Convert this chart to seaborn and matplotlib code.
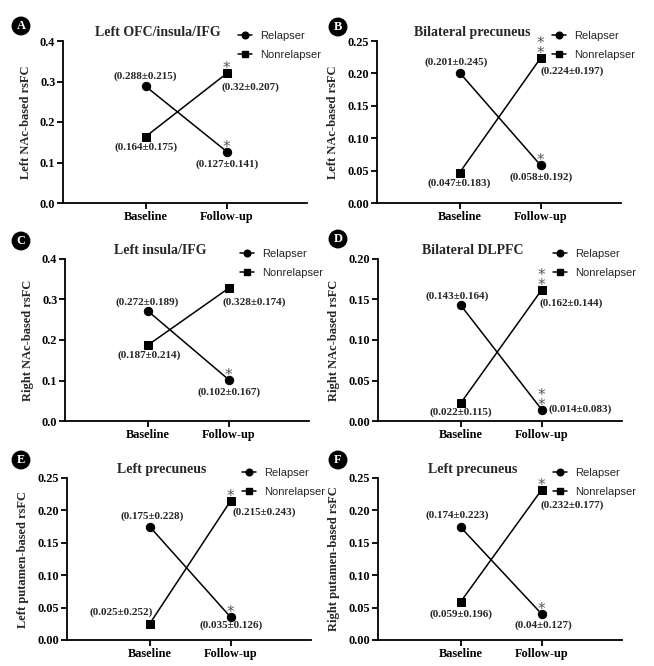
import numpy as np
import pandas as pd
import matplotlib
matplotlib.use("Agg")
import matplotlib.pyplot as plt
from matplotlib.lines import Line2D
from matplotlib.ticker import MultipleLocator, FormatStrFormatter
import seaborn as sns

# --- data ---
groups = ["Relapser", "Nonrelapser"]
timepoints = ["Baseline", "Follow-up"]
panel_letters = ["A", "B", "C", "D", "E", "F"]
titles = ["Left OFC/insula/IFG", "Bilateral precuneus", "Left insula/IFG",
          "Bilateral DLPFC", "Left precuneus", "Left precuneus"]
ylabels = ["Left NAc-based rsFC", "Left NAc-based rsFC",
           "Right NAc-based rsFC", "Right NAc-based rsFC",
           "Left putamen-based rsFC", "Right putamen-based rsFC"]

relapser_mean = [[0.288, 0.127], [0.201, 0.058], [0.272, 0.102],
                 [0.143, 0.014], [0.175, 0.035], [0.174, 0.04]]
relapser_sd = [[0.215, 0.141], [0.245, 0.192], [0.189, 0.167],
               [0.164, 0.083], [0.228, 0.126], [0.223, 0.127]]
nonrelapser_mean = [[0.164, 0.32], [0.047, 0.224], [0.187, 0.328],
                    [0.022, 0.162], [0.025, 0.215], [0.059, 0.232]]
nonrelapser_sd = [[0.175, 0.207], [0.183, 0.197], [0.214, 0.174],
                  [0.115, 0.144], [0.252, 0.243], [0.196, 0.177]]

# number of significance stars at each time point
relapser_stars = [[0, 1], [0, 1], [0, 1], [0, 2], [0, 1], [0, 1]]
nonrelapser_stars = [[0, 1], [0, 2], [0, 0], [0, 2], [0, 1], [0, 1]]

y_max = [0.4, 0.25, 0.4, 0.20, 0.25, 0.25]
y_step = [0.1, 0.05, 0.1, 0.05, 0.05, 0.05]
y_fmt = ["%.1f", "%.2f", "%.1f", "%.2f", "%.2f", "%.2f"]

# label offsets in pixels: rel_base, rel_fu, non_base, non_fu -> (dx, dy, ha)
label_offsets = [
    [(0, 10, "center"), (0, -13, "center"), (0, -11, "center"), (24, -14, "center")],
    [(-3, 11, "center"), (0, -12, "center"), (0, -11, "center"), (31, -13, "center")],
    [(0, 9, "center"), (0, -13, "center"), (2, -10, "center"), (26, -14, "center")],
    [(-3, 9, "center"), (7, 0, "left"), (0, -9, "center"), (29, -13, "center")],
    [(3, 10, "center"), (0, -8, "center"), (-28, 12, "center"), (34, -12, "center")],
    [(-3, 12, "center"), (2, -11, "center"), (0, -12, "center"), (30, -16, "center")],
]

sns.set_theme(style="ticks")
serif = "Liberation Serif"
sans = "Liberation Sans"
plt.rcParams.update({
    "font.family": serif,
    "font.weight": "bold",
    "axes.linewidth": 1.3,
    "xtick.major.width": 1.3,
    "ytick.major.width": 1.3,
    "xtick.major.size": 4,
    "ytick.major.size": 4,
    "xtick.color": "black",
    "ytick.color": "black",
    "axes.edgecolor": "black",
})

W, H = 654, 666
fig = plt.figure(figsize=(W / 100, H / 100), dpi=100)

ax_left = [63, 377, 65, 378, 67, 378]
row_top = [41, 259, 478]
ax_w, ax_h = 244, 162
letter_pos = [(21, 26), (338, 27), (21, 241), (338, 239), (21, 460), (338, 460)]

palette = {"Relapser": "black", "Nonrelapser": "black"}
markers = {"Relapser": "o", "Nonrelapser": "s"}

for i in range(6):
    r = i // 2
    ax = fig.add_axes([ax_left[i] / W, 1 - (row_top[r] + ax_h) / H, ax_w / W, ax_h / H])

    df = pd.DataFrame({
        "time": timepoints * 2,
        "group": [g for g in groups for _ in timepoints],
        "rsFC": relapser_mean[i] + nonrelapser_mean[i],
    })
    sns.lineplot(data=df, x="time", y="rsFC", hue="group", style="group",
                 markers=markers, dashes=False, palette=palette, errorbar=None,
                 markersize=6, linewidth=1.1, markeredgecolor="black",
                 legend=False, sort=False, ax=ax)
    for ln in ax.lines:
        ln.set_clip_on(False)

    ax.set_xlim(-1.02, 1.99)
    ax.set_ylim(0, y_max[i])
    ax.yaxis.set_major_locator(MultipleLocator(y_step[i]))
    ax.yaxis.set_major_formatter(FormatStrFormatter(y_fmt[i]))
    ax.set_xticks([0, 1])
    ax.set_xticklabels(timepoints)
    ax.tick_params(axis="both", labelsize=8.8, pad=1.5)
    for lab in ax.get_xticklabels() + ax.get_yticklabels():
        lab.set_fontweight("bold")
    ax.set_xlabel("")
    ax.set_ylabel(ylabels[i], fontsize=9, fontweight="bold", labelpad=6)
    sns.despine(ax=ax)

    ax.text(0.39, 1.05, titles[i], transform=ax.transAxes, ha="center",
            va="center", fontsize=10, fontweight="bold")

    # value labels
    series = [(relapser_mean[i], relapser_sd[i]), (nonrelapser_mean[i], nonrelapser_sd[i])]
    k = 0
    for means, sds in series:
        for t in range(2):
            dx, dy, ha = label_offsets[i][k]
            ax.annotate(f"({means[t]:g}\u00b1{sds[t]:g})", (t, means[t]),
                        xytext=(dx, dy), textcoords="offset pixels",
                        ha=ha, va="center", fontsize=8, fontweight="bold",
                        annotation_clip=False)
            k += 1

    # significance stars (stacked in one text when there are two)
    for means, stars in [(relapser_mean[i], relapser_stars[i]),
                         (nonrelapser_mean[i], nonrelapser_stars[i])]:
        for t in range(2):
            if stars[t] == 0:
                continue
            ax.annotate("\n".join(["*"] * stars[t]), (t, means[t]),
                        xytext=(0, -3), textcoords="offset pixels",
                        ha="center", va="bottom", linespacing=0.55,
                        fontsize=11, color="#555555", family="DejaVu Sans",
                        fontweight="normal", annotation_clip=False)

    handles = [Line2D([], [], color="black", marker=markers[g], markersize=4.8,
                      lw=1.1) for g in groups]
    ax.legend(handles, groups, loc="upper left", bbox_to_anchor=(0.70, 1.09),
              frameon=False, handlelength=1.2, handletextpad=0.8,
              labelspacing=0.85, borderaxespad=0,
              prop={"family": sans, "size": 8, "weight": "normal"})

    lx, ly = letter_pos[i]
    fig.text(lx / W, 1 - ly / H, panel_letters[i], ha="center", va="center",
             color="white", fontsize=9, fontweight="bold",
             bbox=dict(boxstyle="circle,pad=0.22", fc="black", ec="black"))

fig.savefig("out.png", dpi=100)
